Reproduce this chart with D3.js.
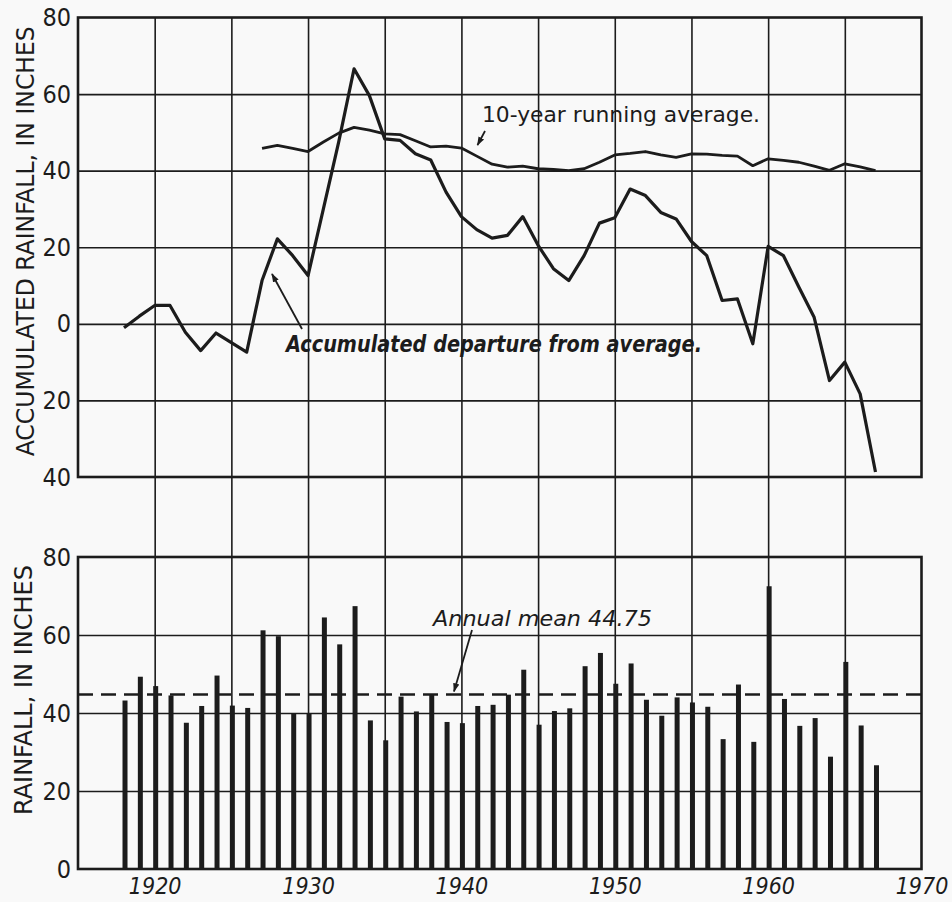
<!DOCTYPE html>
<html>
<head>
<meta charset="utf-8">
<script src="https://cdn.jsdelivr.net/npm/d3@7/dist/d3.min.js"></script>
<style>
  html, body { margin: 0; padding: 0; background: #f9f9f9; }
  svg { display: block; }
  text { font-family: "DejaVu Sans Condensed", "DejaVu Sans", "Liberation Sans Narrow", sans-serif; fill: #1c1c1c; }
</style>
</head>
<body>
<svg id="chart" width="952" height="902"></svg>
<script>
// Annual rainfall, 1918-1967 (inches)
const years = [1918,1919,1920,1921,1922,1923,1924,1925,1926,1927,
               1928,1929,1930,1931,1932,1933,1934,1935,1936,1937,
               1938,1939,1940,1941,1942,1943,1944,1945,1946,1947,
               1948,1949,1950,1951,1952,1953,1954,1955,1956,1957,
               1958,1959,1960,1961,1962,1963,1964,1965,1966,1967];
const annualRainfall = [43.2,49.3,46.9,44.5,37.5,41.8,49.6,41.9,41.3,61.2,
                        59.7,39.8,40.0,64.5,57.6,67.4,38.1,33.0,44.2,40.4,
                        44.7,37.7,37.4,41.8,42.1,44.7,51.1,37.0,40.5,41.2,
                        52.0,55.4,47.5,52.7,43.4,39.3,44.0,42.7,41.6,33.3,
                        47.3,32.6,72.5,43.6,36.7,38.7,28.8,53.1,36.8,26.6];
// Accumulated departure from the annual mean (inches)
const accumulatedDeparture = [-1.0,2.0,4.8,4.8,-2.2,-7.0,-2.4,-4.9,-7.4,11.3,
                              22.2,17.8,12.6,30.0,47.5,66.6,59.6,48.3,47.9,44.4,
                              42.8,34.4,28.0,24.6,22.4,23.1,28.0,20.5,14.4,11.3,
                              17.8,26.3,27.7,35.2,33.5,29.1,27.4,21.5,17.8,6.1,
                              6.5,-5.2,20.2,17.8,9.6,1.7,-14.8,-10.0,-18.3,-38.7];
// 10-year running average (inches), 1927-1967
const runningYears = [1927,1928,1929,1930,1931,1932,1933,1934,1935,1936,
                      1937,1938,1939,1940,1941,1942,1943,1944,1945,1946,
                      1947,1948,1949,1950,1951,1952,1953,1954,1955,1956,
                      1957,1958,1959,1960,1961,1962,1963,1964,1965,1966,1967];
const runningAverage = [45.8,46.6,45.8,45.0,47.5,49.8,51.3,50.6,49.6,49.4,
                        47.8,46.2,46.4,45.9,43.8,41.7,40.9,41.2,40.5,40.3,
                        40.0,40.5,42.2,44.1,44.5,45.0,44.1,43.5,44.4,44.3,
                        44.0,43.8,41.3,43.1,42.7,42.2,41.2,40.1,41.8,41.0,40.0];
const annualMean = 44.75;

// Axis ticks
const topTicks = [-40,-20,0,20,40,60,80];
const bottomTicks = [0,20,40,60,80];
const gridYears = [1920,1925,1930,1935,1940,1945,1950,1955,1960,1965];
const labelYears = [1920,1930,1940,1950,1960,1970];

const ink = "#1c1c1c";
const svg = d3.select("#chart");

const x = d3.scaleLinear().domain([1915, 1970]).range([78, 921.5]);
const yTop = d3.scaleLinear().domain([-40, 80]).range([477, 17.5]);
const yBot = d3.scaleLinear().domain([0, 80]).range([869, 557]);

svg.append("defs").append("marker")
  .attr("id", "head").attr("viewBox", "0 0 10 10")
  .attr("refX", 9).attr("refY", 5)
  .attr("markerWidth", 9).attr("markerHeight", 9)
  .attr("markerUnits", "userSpaceOnUse")
  .attr("orient", "auto")
  .append("path").attr("d", "M0,1.5 L10,5 L0,8.5 Z").attr("fill", ink);

// Vertical grid lines running through both panels
svg.append("g")
  .attr("transform", `translate(0,${yBot(0)})`)
  .call(d3.axisBottom(x).tickValues(gridYears).tickFormat("")
        .tickSize(-(yBot(0) - yTop(80))))
  .call(g => g.select(".domain").remove())
  .call(g => g.selectAll("line").attr("stroke", ink).attr("stroke-width", 1.6));

// Horizontal grid lines, top panel
svg.append("g")
  .attr("transform", `translate(${x(1915)},0)`)
  .call(d3.axisLeft(yTop).tickValues(topTicks.slice(1, -1)).tickFormat("")
        .tickSize(-(x(1970) - x(1915))))
  .call(g => g.select(".domain").remove())
  .call(g => g.selectAll("line").attr("stroke", ink).attr("stroke-width", 1.6));

// Horizontal grid lines, bottom panel
svg.append("g")
  .attr("transform", `translate(${x(1915)},0)`)
  .call(d3.axisLeft(yBot).tickValues(bottomTicks.slice(1, -1)).tickFormat("")
        .tickSize(-(x(1970) - x(1915))))
  .call(g => g.select(".domain").remove())
  .call(g => g.selectAll("line").attr("stroke", ink).attr("stroke-width", 1.6));

// Panel frames
[[yTop(80), yTop(-40)], [yBot(80), yBot(0)]].forEach(([t, b]) => {
  svg.append("rect")
    .attr("x", x(1915)).attr("y", t)
    .attr("width", x(1970) - x(1915)).attr("height", b - t)
    .attr("fill", "none").attr("stroke", ink).attr("stroke-width", 2.6);
});

// Y tick labels
const tickFont = 25;
svg.append("g")
  .attr("transform", `translate(${x(1915)},0)`)
  .call(d3.axisLeft(yTop).tickValues(topTicks).tickFormat(d => Math.abs(d))
        .tickSize(0).tickPadding(7))
  .call(g => g.select(".domain").remove())
  .call(g => g.selectAll("text").attr("font-size", tickFont).attr("font-family", null).attr("fill", ink));

svg.append("g")
  .attr("transform", `translate(${x(1915)},0)`)
  .call(d3.axisLeft(yBot).tickValues(bottomTicks).tickFormat(d => d)
        .tickSize(0).tickPadding(7))
  .call(g => g.select(".domain").remove())
  .call(g => g.selectAll("text").attr("font-size", tickFont).attr("font-family", null).attr("fill", ink));

// Year labels
svg.append("g")
  .attr("transform", `translate(0,${yBot(0)})`)
  .call(d3.axisBottom(x).tickValues(labelYears).tickFormat(d => d)
        .tickSize(0).tickPadding(9))
  .call(g => g.select(".domain").remove())
  .call(g => g.selectAll("text").attr("font-size", 23).attr("font-style", "italic")
        .attr("font-family", null).attr("fill", ink));

// Axis titles
svg.append("text")
  .attr("transform", `translate(34,${(yTop(80) + yTop(-40)) / 2 - 6}) rotate(-90)`)
  .attr("text-anchor", "middle").attr("font-size", 24)
  .attr("textLength", 430).attr("lengthAdjust", "spacingAndGlyphs")
  .text("ACCUMULATED RAINFALL, IN INCHES");

svg.append("text")
  .attr("transform", `translate(32,${(yBot(80) + yBot(0)) / 2 - 23}) rotate(-90)`)
  .attr("text-anchor", "middle").attr("font-size", 24)
  .attr("textLength", 250).attr("lengthAdjust", "spacingAndGlyphs")
  .text("RAINFALL, IN INCHES");

// Annual rainfall bars
svg.append("g").selectAll("rect")
  .data(years.map((yr, i) => ({ yr, v: annualRainfall[i] })))
  .join("rect")
  .attr("x", d => x(d.yr) - 1.5)
  .attr("y", d => yBot(d.v))
  .attr("width", 5)
  .attr("height", d => yBot(0) - yBot(d.v))
  .attr("fill", ink);

// Annual mean line
svg.append("line")
  .attr("x1", x(1915)).attr("x2", x(1970))
  .attr("y1", yBot(annualMean)).attr("y2", yBot(annualMean))
  .attr("stroke", ink).attr("stroke-width", 2.6)
  .attr("stroke-dasharray", "15 8");

// Curves in the top panel
const line = d3.line().x(d => x(d[0])).y(d => yTop(d[1]));
svg.append("path")
  .datum(years.map((yr, i) => [yr, accumulatedDeparture[i]]))
  .attr("d", line).attr("fill", "none")
  .attr("stroke", ink).attr("stroke-width", 3.2).attr("stroke-linejoin", "round");
svg.append("path")
  .datum(runningYears.map((yr, i) => [yr, runningAverage[i]]))
  .attr("d", line).attr("fill", "none")
  .attr("stroke", ink).attr("stroke-width", 2.8).attr("stroke-linejoin", "round");

// Annotations
svg.append("text")
  .attr("x", 482).attr("y", 122)
  .attr("font-size", 21).attr("textLength", 278).attr("lengthAdjust", "spacingAndGlyphs")
  .text("10-year running average.");
svg.append("line")
  .attr("x1", 485).attr("y1", 131).attr("x2", 477.5).attr("y2", yTop(runningAverage[13]) - 3)
  .attr("stroke", ink).attr("stroke-width", 1.8).attr("marker-end", "url(#head)");

svg.append("text")
  .attr("x", 286).attr("y", 352)
  .attr("font-size", 23).attr("font-weight", "bold").attr("font-style", "italic")
  .attr("textLength", 416).attr("lengthAdjust", "spacingAndGlyphs")
  .text("Accumulated departure from average.");
svg.append("line")
  .attr("x1", 302).attr("y1", 329).attr("x2", 272).attr("y2", 274)
  .attr("stroke", ink).attr("stroke-width", 1.8).attr("marker-end", "url(#head)");

svg.append("text")
  .attr("x", 433).attr("y", 626)
  .attr("font-size", 21).attr("font-style", "italic")
  .attr("textLength", 219).attr("lengthAdjust", "spacingAndGlyphs")
  .text("Annual mean 44.75");
svg.append("line")
  .attr("x1", 472).attr("y1", 630).attr("x2", 454).attr("y2", yBot(annualMean) - 3)
  .attr("stroke", ink).attr("stroke-width", 1.8).attr("marker-end", "url(#head)");
</script>
</body>
</html>
